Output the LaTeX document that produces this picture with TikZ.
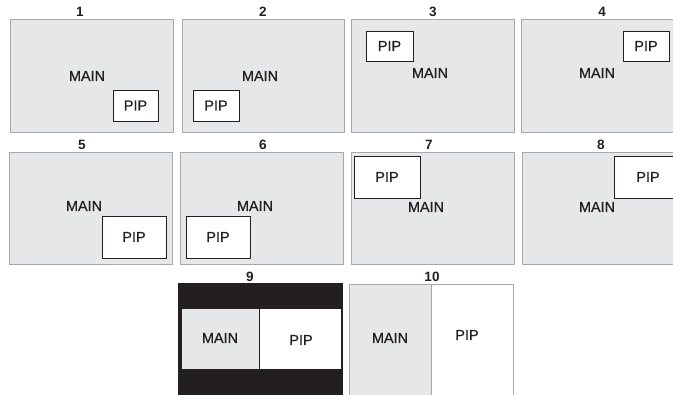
\documentclass[tikz,border=0pt]{standalone}
\usepackage{fontspec}
\setmainfont{Liberation Sans}
\newfontfamily\labelfont[FakeBold=0.5]{Liberation Sans}
\definecolor{scrgray}{HTML}{E6E7E8}
\definecolor{edgegray}{HTML}{A7A9AC}
\definecolor{inkblack}{HTML}{231F20}
\tikzset{
  screen/.style={draw=edgegray, fill=scrgray, line width=0.9pt, anchor=north west, inner sep=0pt, outer sep=0pt},
  pipbox/.style={draw=inkblack, fill=white, line width=0.9pt, anchor=north west, inner sep=0pt, outer sep=0pt, text=inkblack, font=\labelfont\fontsize{14.5}{17}\selectfont},
  mainlabel/.style={text=inkblack, inner sep=0pt, font=\labelfont\fontsize{14.5}{17}\selectfont},
  numlabel/.style={text=inkblack, inner sep=0pt, font=\fontsize{13.5}{16}\selectfont\bfseries}
}

\begin{document}
\begin{tikzpicture}[x=1pt, y=-1pt]
      \useasboundingbox (0,0) rectangle (673,395);
      \clip (0,0) rectangle (673,395);
      % first row
      \node[screen, minimum width=163, minimum height=113] (s1) at (10,19) {};
      \node[screen, minimum width=162, minimum height=113] (s2) at (182,19) {};
      \node[screen, minimum width=163, minimum height=113] (s3) at (351,19) {};
      \node[screen, minimum width=163, minimum height=113] (s4) at (521,19) {};
      \node[numlabel] (n1) at (80,12) {1};
      \node[numlabel] (n2) at (263,12) {2};
      \node[numlabel] (n3) at (433,12) {3};
      \node[numlabel] (n4) at (602,12) {4};
      \node[mainlabel] (m1) at (87,76) {MAIN};
      \node[mainlabel] (m2) at (260,76) {MAIN};
      \node[mainlabel] (m3) at (430,73) {MAIN};
      \node[mainlabel] (m4) at (597,73) {MAIN};
      \node[pipbox, minimum width=45, minimum height=31] (p1) at (113,90) {PIP};
      \node[pipbox, minimum width=46, minimum height=31] (p2) at (193,90) {PIP};
      \node[pipbox, minimum width=47, minimum height=30] (p3) at (366,31) {PIP};
      \node[pipbox, minimum width=46, minimum height=30] (p4) at (623,31) {PIP};
      % second row
      \node[screen, minimum width=163, minimum height=112] (s5) at (9,152) {};
      \node[screen, minimum width=163, minimum height=112] (s6) at (180,152) {};
      \node[screen, minimum width=163, minimum height=112] (s7) at (351,152) {};
      \node[screen, minimum width=163, minimum height=112] (s8) at (522,152) {};
      \node[numlabel] (n5) at (82,144.5) {5};
      \node[numlabel] (n6) at (263,144.5) {6};
      \node[numlabel] (n7) at (429,144.5) {7};
      \node[numlabel] (n8) at (601,144.5) {8};
      \node[mainlabel] (m5) at (84,206) {MAIN};
      \node[mainlabel] (m6) at (255,206) {MAIN};
      \node[mainlabel] (m7) at (426,207) {MAIN};
      \node[mainlabel] (m8) at (597,207) {MAIN};
      \node[pipbox, minimum width=64, minimum height=42] (p5) at (102,216) {PIP};
      \node[pipbox, minimum width=64, minimum height=42] (p6) at (186,216) {PIP};
      \node[pipbox, minimum width=66, minimum height=42] (p7) at (354,156) {PIP};
      \node[pipbox, minimum width=68, minimum height=42] (p8) at (614,156) {PIP};
      % third row
      \node[screen, draw=inkblack, fill=inkblack, minimum width=164, minimum height=116] (s9) at (178,283) {};
      \node[screen, draw=inkblack, minimum width=78, minimum height=61] (h9) at (181,308) {};
      \node[pipbox, minimum width=82, minimum height=61] (p9) at (259,308) {};
      \node[screen, minimum width=82, minimum height=116] (s10) at (349,284) {};
      \node[screen, fill=white, minimum width=82, minimum height=116] (p10) at (431,284) {};
      \node[numlabel] (n9) at (250,277) {9};
      \node[numlabel] (n10) at (432,277) {10};
      \node[mainlabel] (m9) at (220,338) {MAIN};
      \node[mainlabel] (t9) at (301,340) {PIP};
      \node[mainlabel] (m10) at (390,338) {MAIN};
      \node[mainlabel] (t10) at (467,335) {PIP};
    \end{tikzpicture}
\end{document}
